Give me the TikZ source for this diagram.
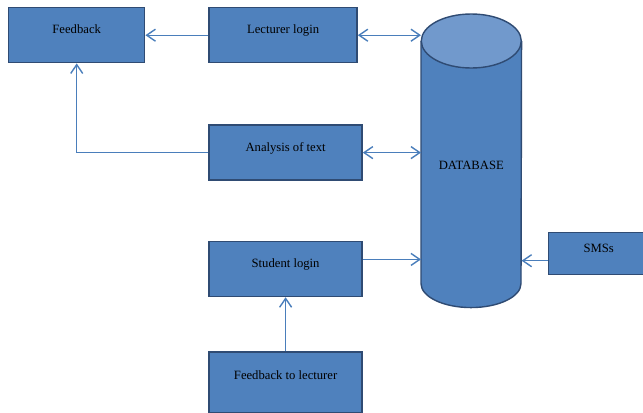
\documentclass[tikz,border=0pt]{standalone}
\usepackage{fontspec}
\setmainfont{Liberation Serif}
\usetikzlibrary{arrows.meta,positioning,calc,backgrounds}
\definecolor{boxfill}{HTML}{4F81BD}
\definecolor{boxline}{HTML}{2F4B73}
\definecolor{dbtop}{HTML}{7199CC}
\definecolor{arrline}{HTML}{4A7EBB}

\begin{document}
\begin{tikzpicture}[
      node distance=1.575cm,
      box/.style={draw=boxline, fill=boxfill, line width=1pt, font=\fontsize{9}{10}\selectfont, inner ysep=0pt, text height=0.65cm, text depth=0.725cm, minimum width=3.825cm},
      arr/.style={-{Straight Barb[length=2.2mm,width=3mm]}, draw=arrline, line width=1pt},
      darr/.style={arr, {Straight Barb[length=2.2mm,width=3mm]}-{Straight Barb[length=2.2mm,width=3mm]}}]
    \useasboundingbox (0,0) rectangle (16.075,-10.3);
    \node[box, anchor=north west, minimum width=3.4cm] (fb) at (0.2,-0.175) {Feedback};
    \node[box, right=of fb, minimum width=3.7cm] (lec) {Lecturer login};
    \node[box, below=1.525cm of lec.south west, anchor=north west] (ana) {Analysis of text};
    \node[box, below=1.5cm of ana] (stu) {Student login};
    \node[box, below=1.35cm of stu, text height=0.7cm, text depth=0.825cm] (ftl) {Feedback to lecturer};
    \node[anchor=north west, minimum width=2.5cm, inner ysep=0pt, text height=3.875cm, text depth=3.45cm, font=\fontsize{9}{10}\selectfont] (db) at (10.525,-0.35) {DATABASE};
    \node[box, anchor=north west, minimum width=2.5cm, text height=0.5cm, text depth=0.55cm] (sms) at (13.7,-5.8) {SMSs};
    % database cylinder
    \begin{scope}[on background layer]
      \draw[boxline, fill=boxfill, line width=1pt] ($(db.north west)+(0,-0.675)$) -- ($(db.south west)+(0,0.6)$) arc[start angle=180, end angle=360, x radius=1.25cm, y radius=0.6cm] -- ($(db.north east)+(0,-0.675)$);
      \draw[boxline, fill=dbtop, line width=1pt] ($(db.north)+(0,-0.675)$) ellipse [x radius=1.25cm, y radius=0.675cm];
    \end{scope}
    \draw[arr] (lec) -- (fb);
    \draw[darr] (lec.east) -- (lec.east -| db.west);
    \draw[darr] (ana.east) -- (ana.east -| db.west);
    \draw[arr] (ana.west) -| (fb.south);
    \draw[arr] ([yshift=0.24cm]stu.east) -- ([yshift=0.24cm]stu.east -| db.west);
    \draw[arr] ([yshift=-0.175cm]sms.west) -- ([yshift=-0.175cm]sms.west -| db.east);
    \draw[arr] (ftl) -- (stu);
  \end{tikzpicture}
\end{document}
